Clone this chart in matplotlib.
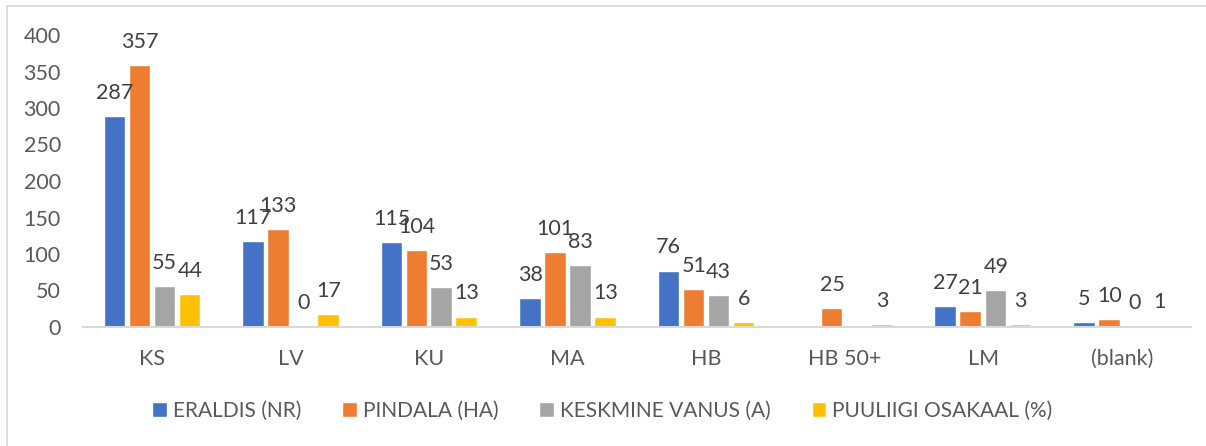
import matplotlib.pyplot as plt
import numpy as np
from matplotlib.lines import Line2D

plt.rcParams["font.family"] = ["Lato", "DejaVu Sans"]

categories = ["KS", "LV", "KU", "MA", "HB", "HB 50+", "LM", "(blank)"]
series_names = ["ERALDIS (NR)", "PINDALA (HA)", "KESKMINE VANUS (A)", "PUULIIGI OSAKAAL (%)"]
eraldis = [287, 117, 115, 38, 76, np.nan, 27, 5]
pindala = [357, 133, 104, 101, 51, 25, 21, 10]
vanus = [55, 0, 53, 83, 43, np.nan, 49, 0]
osakaal = [44, 17, 13, 13, 6, 3, 3, 1]
colors = ["#4472C4", "#ED7D31", "#A5A5A5", "#FFC000"]

W, H = 1206, 446
fig = plt.figure(figsize=(W / 100, H / 100), dpi=100)
ax = fig.add_axes([83 / W, 1 - 327 / H, (1191 - 83) / W, (327 - 35) / H])

x = np.arange(len(categories))
pitch = 25 / 138.5
width = 20.5 / 138.5
for i, (name, vals, c) in enumerate(zip(series_names, [eraldis, pindala, vanus, osakaal], colors)):
    xs = x + (i - 1.5) * pitch
    ax.bar(xs, vals, width=width, color=c, edgecolor="white", linewidth=0.3, label=name)
    for xi, v in zip(xs, vals):
        if np.isnan(v):
            continue
        ax.annotate(f"{v:g}", (xi, v), xytext=(0, 13), textcoords="offset points",
                    ha="center", va="baseline", fontsize=15.5, color="#404040")

ax.set_xlim(-0.5, len(categories) - 0.5)
ax.set_ylim(0, 400)
ax.set_yticks(range(0, 401, 50))
ax.set_xticks(x, categories)
ax.tick_params(axis="both", length=0, labelsize=15.5, labelcolor="#595959")
ax.tick_params(axis="y", pad=16)
ax.tick_params(axis="x", pad=16)
for s in ["top", "right", "left"]:
    ax.spines[s].set_visible(False)
ax.spines["bottom"].set_color("#D9D9D9")
ax.spines["bottom"].set_linewidth(1.5)

fig.legend(loc="center", bbox_to_anchor=(0.5, 1 - 411 / H), ncol=4, frameon=False,
           fontsize=15, labelcolor="#595959", handlelength=0.65, handleheight=0.65,
           handletextpad=0.3, columnspacing=2.0)

# chart area border (left and top visible)
fig.add_artist(Line2D([7 / W, 7 / W], [0, 1 - 6 / H], color="#D9D9D9", lw=1.2))
fig.add_artist(Line2D([7 / W, 1], [1 - 6 / H, 1 - 6 / H], color="#D9D9D9", lw=1.2))

fig.savefig("out.png", dpi=100)
